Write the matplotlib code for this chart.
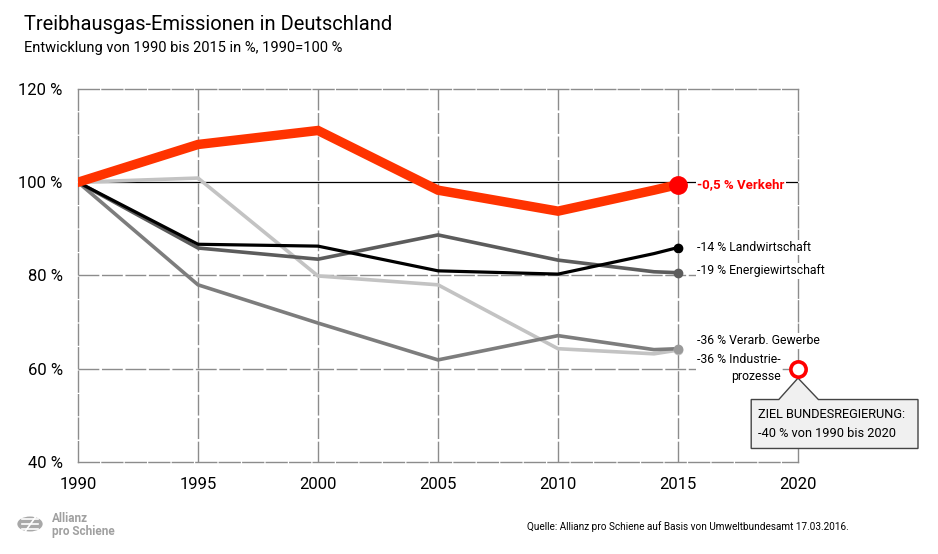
import numpy as np
import matplotlib
matplotlib.use("Agg")
import matplotlib.pyplot as plt
from matplotlib.patches import Polygon, Circle

plt.rcParams["font.family"] = ["Roboto", "DejaVu Sans"]

# data (1990 = 100 %)
years = [1990, 1995, 2000, 2005, 2010, 2014, 2015]
verkehr = [100, 108.1, 111.1, 98.3, 93.8, 98.3, 99.5]
landwirtschaft = [100, 86.7, 86.3, 81.0, 80.3, 84.7, 86.0]
energiewirtschaft = [100, 85.9, 83.5, 88.7, 83.3, 80.8, 80.6]
verarb_gewerbe = [100, 78.0, 69.8, 61.9, 67.1, 64.1, 64.3]
industrieprozesse = [100, 100.9, 79.9, 78.0, 64.3, 63.2, 64.0]

ziel_year = 2020
ziel_value = 60

end_labels = ["-0,5 % Verkehr", "-14 % Landwirtschaft", "-19 % Energiewirtschaft",
              "-36 % Verarb. Gewerbe", "-36 % Industrie-\nprozesse"]
label_y = [99.4, 86.0, 81.0, 66.0, 63.4]

x_ticks = [1990, 1995, 2000, 2005, 2010, 2015, 2020]
y_ticks = [40, 60, 80, 100, 120]
y_tick_labels = ["40 %", "60 %", "80 %", "100 %", "120 %"]

grid_col = "#8c8c8c"
dash = (0, (15, 1.9))

fig = plt.figure(figsize=(9.38, 5.54), dpi=100)
ax = fig.add_axes([78 / 938, 1 - 462 / 554, 720 / 938, 373 / 554])
ax.set_xlim(1990, 2020)
ax.set_ylim(40, 120)

# frame + grid
for s in ax.spines.values():
    s.set_color(grid_col)
    s.set_linewidth(1.0)
    s.set_linestyle(dash)
for x in x_ticks[1:-1]:
    ax.axvline(x, color=grid_col, lw=1.0, ls=dash, zorder=1)
for y in [60, 80]:
    ax.axhline(y, color=grid_col, lw=1.0, ls=dash, zorder=1)
ax.axhline(100, color="black", lw=0.9, zorder=1)

ax.set_xticks(x_ticks)
ax.set_yticks(y_ticks)
ax.set_yticklabels(y_tick_labels)
ax.tick_params(length=0, labelsize=12, pad=11)
ax.tick_params(axis="y", pad=11)

# lines
ax.plot(years, industrieprozesse, color="#c3c3c3", lw=2.6, zorder=3, solid_joinstyle="miter")
ax.plot(years, verarb_gewerbe, color="#7d7d7d", lw=2.6, zorder=3, solid_joinstyle="miter")
ax.plot(years, energiewirtschaft, color="#5c5c5c", lw=2.6, zorder=3, solid_joinstyle="miter")
ax.plot(years, landwirtschaft, color="black", lw=2.3, zorder=4, solid_joinstyle="miter")
ax.plot(years, verkehr, color="#ff3300", lw=6.8, zorder=5, solid_joinstyle="miter")

# end markers
ax.plot(years[-1], industrieprozesse[-1], "o", color="#c3c3c3", ms=6, zorder=6)
ax.plot(years[-1], verarb_gewerbe[-1], "o", color="#9a9a9a", ms=6, zorder=6)
ax.plot(years[-1], energiewirtschaft[-1], "o", color="#5c5c5c", ms=6, zorder=6)
ax.plot(years[-1], landwirtschaft[-1], "o", color="black", ms=6, zorder=6)
ax.plot(years[-1], verkehr[-1], "o", color="#ff0000", ms=12.5, zorder=6)
ax.plot(ziel_year, ziel_value, "o", mfc="white", mec="#ff0000", mew=2.6, ms=11,
        zorder=8, clip_on=False)

# end labels
lx = 2015.8
ax.text(lx, label_y[0], end_labels[0], color="#ff0000", fontsize=9.5, fontweight="bold",
        va="center", ha="left", zorder=7,
        bbox=dict(fc="white", ec="none", pad=1))
for txt, y in zip(end_labels[1:4], label_y[1:4]):
    ax.text(lx, y, txt, color="black", fontsize=8.8, va="center", ha="left", zorder=7,
            bbox=dict(fc="white", ec="none", pad=1), clip_on=False)
ax.text(lx, label_y[4], end_labels[4], color="black", fontsize=8.8, va="top",
        ha="left", multialignment="right", linespacing=1.45, zorder=7,
        bbox=dict(fc="white", ec="none", pad=1), clip_on=False)

# callout box
box = Polygon([(2018.05, 53.4), (2019.2, 53.4), (2020.0, 58.0), (2020.85, 53.4),
               (2025.0, 53.4), (2025.0, 42.9), (2018.05, 42.9)],
              closed=True, fc="#f0f0f0", ec="#444444", lw=1.0, zorder=7, clip_on=False)
ax.add_patch(box)
ax.text(2018.35, 48.2, "ZIEL BUNDESREGIERUNG:\n-40 % von 1990 bis 2020", fontsize=9.2,
        va="center", ha="left", linespacing=1.6, zorder=8)

# titles
fig.text(24 / 938, 1 - 24 / 554, "Treibhausgas-Emissionen in Deutschland", fontsize=14.5,
         va="center", ha="left")
fig.text(24 / 938, 1 - 48 / 554, "Entwicklung von 1990 bis 2015 in %, 1990=100 %",
         fontsize=10.5, va="center", ha="left")

# source
fig.text(527 / 938, 1 - 527 / 554,
         "Quelle: Allianz pro Schiene auf Basis von Umweltbundesamt 17.03.2016.",
         fontsize=7.2, va="center", ha="left")

# logo
logo = Circle((30 / 938, 1 - 524 / 554), 0.0135, transform=fig.transFigure,
              fc="#a8a8a8", ec="none")
fig.add_artist(logo)
for dy in (-5, 0, 5):
    fig.add_artist(plt.Line2D([22 / 938, 38 / 938], [1 - (524 + dy) / 554] * 2,
                              transform=fig.transFigure, color="white", lw=1.2))
fig.add_artist(plt.Line2D([24 / 938, 37 / 938], [1 - 533 / 554, 1 - 515 / 554],
                          transform=fig.transFigure, color="white", lw=1.2))
fig.text(52 / 938, 1 - 518 / 554, "Allianz", fontsize=8.5, color="#a0a0a0",
         fontweight="bold", va="center", ha="left")
fig.text(52 / 938, 1 - 531 / 554, "pro Schiene", fontsize=8.5, color="#a0a0a0",
         fontweight="bold", va="center", ha="left")

fig.savefig("out.png", dpi=100)
